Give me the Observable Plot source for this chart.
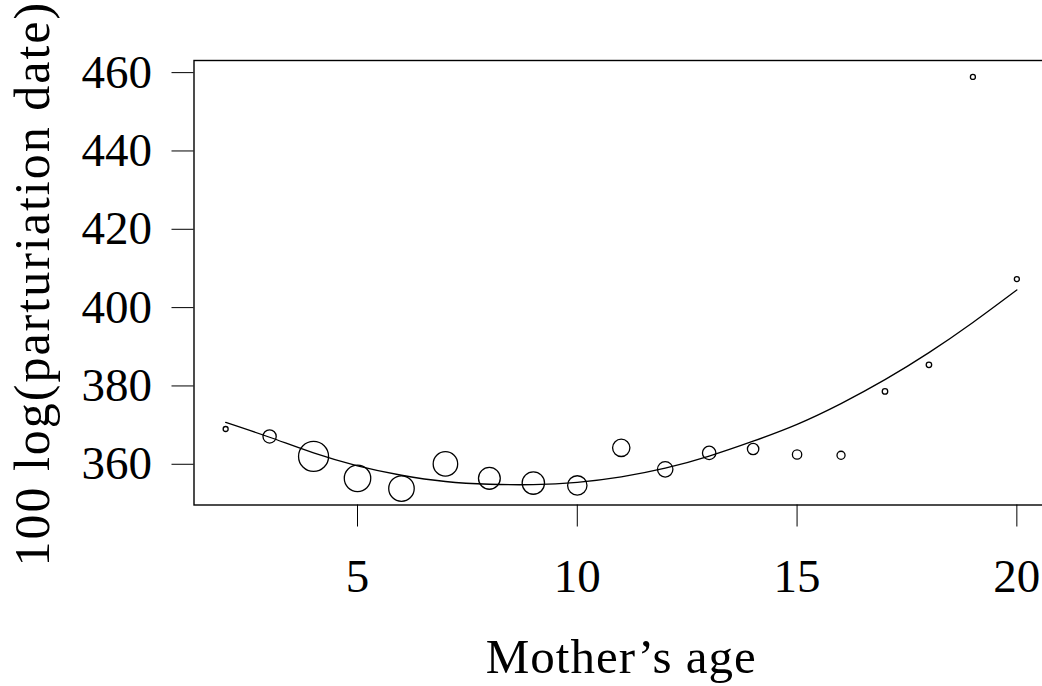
<!DOCTYPE html>
<html>
<head>
<meta charset="utf-8">
<script src="https://cdn.jsdelivr.net/npm/d3@7"></script>
<script src="https://cdn.jsdelivr.net/npm/@observablehq/plot@0.6"></script>
<style>
  html, body { margin: 0; padding: 0; background: #fff; overflow: hidden; }
  #chart { width: 1042px; height: 686px; overflow: hidden; }
  #chart svg { max-width: none !important; }
</style>
</head>
<body>
<div id="chart"></div>
<script>
// Mother's age (years)
const ages = [2, 3, 4, 5, 6, 7, 8, 9, 10, 11, 12, 13, 14, 15, 16, 17, 18, 19, 20];
// Mean of 100 log(parturiation date) per age
const logDate = [369.0, 367.1, 362.0, 356.4, 353.8, 360.1, 356.4, 355.2, 354.6, 364.2,
                 358.7, 362.9, 363.9, 362.5, 362.3, 378.6, 385.4, 458.9, 407.3];
// Number of mothers per age (bubble size)
const counts = [1, 7, 36, 28, 26, 24, 19, 20, 15, 12, 9.5, 7.2, 5.2, 3.5, 2.6, 1.2, 1.2, 1, 1];
// Fitted curve read at each age
const fitted = [370.7, 366.9, 362.9, 359.6, 357.2, 355.6, 354.9, 354.8, 355.4, 356.8,
                359.0, 362.1, 365.9, 370.2, 375.5, 381.6, 388.5, 396.2, 404.5];
const xTicks = [5, 10, 15, 20];
const yTicks = [360, 380, 400, 420, 440, 460];

const points = ages.map((a, i) => ({age: a, value: logDate[i], n: counts[i]}));
const curve = ages.map((a, i) => ({age: a, value: fitted[i]}));

const font = "'Liberation Serif', 'DejaVu Serif', serif";

const chart = Plot.plot({
  width: 1048,
  height: 686,
  marginLeft: 193.5,
  marginRight: 0,
  marginTop: 60,
  marginBottom: 181.5,
  style: {fontFamily: font, background: "#fff", color: "#000", maxWidth: "none"},
  x: {domain: [1.28, 20.72]},
  y: {domain: [349.6, 463.1]},
  r: {type: "sqrt", domain: [0, 36], range: [0, 15]},
  marks: [
    Plot.frame({stroke: "#000", strokeWidth: 1.4}),
    Plot.axisX(xTicks, {tickSize: 22, tickPadding: 32, fontSize: 47, label: null, stroke: "#000", strokeWidth: 1}),
    Plot.axisY(yTicks, {tickSize: 22, tickPadding: 20, fontSize: 47, label: null, stroke: "#000", strokeWidth: 1}),
    Plot.line(curve, {x: "age", y: "value", curve: "natural", stroke: "#000", strokeWidth: 1.3}),
    Plot.dot(points, {x: "age", y: "value", r: "n", stroke: "#000", strokeWidth: 1.3, fill: "none"}),
    Plot.text(["Mother’s age"], {frameAnchor: "bottom", dy: 152, fontSize: 49, lineAnchor: "middle", fill: "#000"}),
    Plot.text(["100 log(parturiation date)"], {frameAnchor: "left", dx: -161, dy: 1, rotate: -90, fontSize: 50, lineAnchor: "middle", textAnchor: "middle", fill: "#000"})
  ]
});
chart.querySelectorAll("text").forEach(t => {
  if (t.textContent.startsWith("100 log")) t.setAttribute("letter-spacing", "2");
  if (t.textContent.startsWith("Mother")) t.setAttribute("letter-spacing", "1");
});
document.getElementById("chart").appendChild(chart);
</script>
</body>
</html>
